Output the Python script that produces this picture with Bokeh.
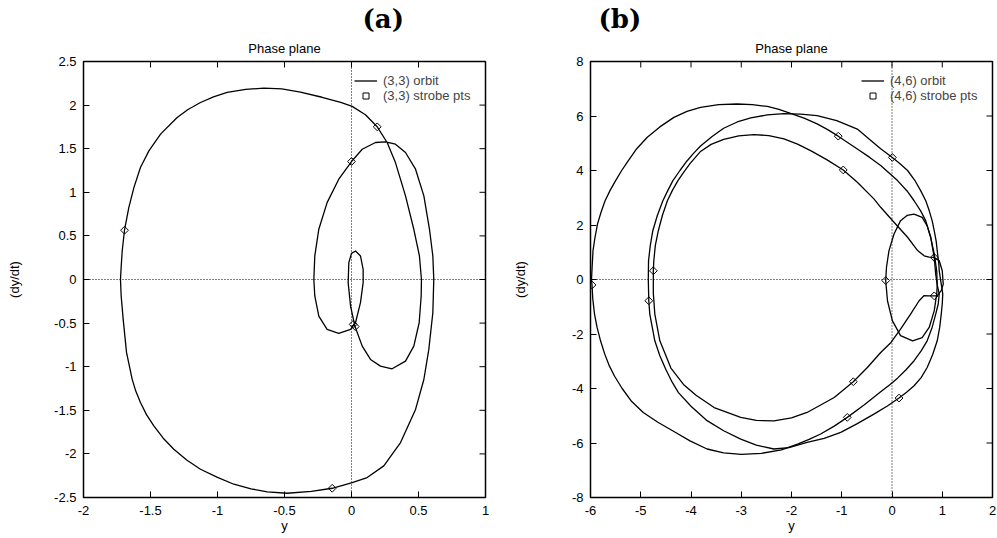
import math
from bokeh.plotting import figure
from bokeh.models import Range1d, FixedTicker, Span, Legend, LegendItem, Title
from bokeh.layouts import row
from bokeh.embed import file_html
from bokeh.resources import INLINE

# ---------------- DATA : panel (a) ----------------
a_orbit_y = [-1.724, -1.719, -1.711, -1.694, -1.662, -1.624, -1.575, -1.512, -1.425, -1.301,
             -1.22, -1.127, -1.03, -0.928, -0.79, -0.654, -0.52, -0.381, -0.22, -0.08,
             0.005, 0.104, 0.192, 0.266, 0.328, 0.403, 0.465, 0.507, 0.522, 0.520,
             0.505, 0.465, 0.403, 0.303, 0.216, 0.142, 0.080, 0.025, -0.007, -0.025,
             -0.020, 0.0, 0.030, 0.067, 0.087, 0.087, 0.067, 0.030, -0.007, -0.095,
             -0.182, -0.244, -0.274, -0.281, -0.274, -0.244, -0.182, -0.095, 0.0, 0.080,
             0.179, 0.254, 0.328, 0.403, 0.478, 0.540, 0.582, 0.607, 0.614, 0.607,
             0.577, 0.540, 0.478, 0.366, 0.241, 0.117, 0.005, -0.144, -0.30, -0.48,
             -0.629, -0.75, -0.878, -1.0, -1.127, -1.23, -1.326, -1.405, -1.475, -1.53,
             -1.575, -1.61, -1.637, -1.679, -1.704, -1.719, -1.724]
a_orbit_dydt = [0.0, 0.14, 0.33, 0.565, 0.825, 1.054, 1.284, 1.475, 1.667, 1.858,
                1.95, 2.03, 2.095, 2.145, 2.18, 2.195, 2.185, 2.149, 2.09, 2.03,
                1.985, 1.89, 1.751, 1.571, 1.341, 0.959, 0.576, 0.27, 0.0, -0.19,
                -0.496, -0.764, -0.936, -1.024, -0.993, -0.917, -0.764, -0.534, -0.304, -0.036,
                0.193, 0.30, 0.327, 0.270, 0.117, -0.036, -0.266, -0.496, -0.572, -0.618,
                -0.572, -0.419, -0.189, 0.0, 0.27, 0.576, 0.882, 1.15, 1.353, 1.494,
                1.571, 1.579, 1.552, 1.456, 1.265, 0.959, 0.576, 0.27, 0.0, -0.381,
                -0.802, -1.147, -1.49, -1.87, -2.137, -2.271, -2.329, -2.394, -2.43, -2.451,
                -2.436, -2.40, -2.348, -2.27, -2.176, -2.07, -1.946, -1.82, -1.678, -1.55,
                -1.41, -1.28, -1.142, -0.836, -0.454, -0.186, 0.0]
a_strobe_y = [-1.694, 0.192, 0.0, -0.144, 0.012, 0.028]
a_strobe_dydt = [0.565, 1.751, 1.353, -2.394, -0.515, -0.540]

a_xticks = [-2, -1.5, -1, -0.5, 0, 0.5, 1]
a_xtick_labels = ["-2", "-1.5", "-1", "-0.5", "0", "0.5", "1"]
a_yticks = [-2.5, -2, -1.5, -1, -0.5, 0, 0.5, 1, 1.5, 2, 2.5]
a_ytick_labels = ["-2.5", "-2", "-1.5", "-1", "-0.5", "0", "0.5", "1", "1.5", "2", "2.5"]

# ---------------- DATA : panel (b) ----------------
b_loop1_y = [-5.98, -5.965, -5.95, -5.91, -5.86, -5.79, -5.71, -5.61, -5.50, -5.38,
             -5.25, -5.08, -4.87, -4.62, -4.34, -4.08, -3.81, -3.45, -3.08, -2.78,
             -2.48, -2.25, -2.02, -1.75, -1.49, -1.28, -1.07, -0.69, -0.45, -0.225,
             0.11, 0.30, 0.44, 0.57, 0.67, 0.77, 0.84, 0.87, 0.90, 0.94,
             0.92, 0.87, 0.80, 0.70, 0.58, 0.44, 0.28, 0.11, -0.05, -0.225,
             -0.55, -0.89, -1.15, -1.42, -1.65, -1.88, -2.2, -2.6, -3.0, -3.35,
             -3.68, -4.02, -4.34, -4.66, -4.95, -5.18, -5.37, -5.52, -5.63, -5.72,
             -5.80, -5.87, -5.92, -5.955, -5.97, -5.98]
b_loop1_dydt = [0.0, 0.55, 1.06, 1.55, 2.04, 2.47, 2.89, 3.27, 3.63, 4.0,
                4.35, 4.8, 5.22, 5.6, 5.95, 6.17, 6.32, 6.42, 6.44, 6.42,
                6.35, 6.24, 6.10, 5.92, 5.71, 5.50, 5.26, 4.79, 4.49, 4.18,
                3.63, 3.25, 2.89, 2.52, 2.16, 1.55, 0.81, 0.2, -0.2, -0.53,
                -0.9, -1.27, -1.75, -2.25, -2.62, -2.98, -3.31, -3.62, -3.87, -4.12,
                -4.6, -5.06, -5.38, -5.67, -5.87, -6.04, -6.25, -6.38, -6.42, -6.36,
                -6.22, -5.92, -5.58, -5.24, -4.88, -4.48, -4.00, -3.55, -3.15, -2.72,
                -2.25, -1.75, -1.27, -0.7, -0.2, 0.0]

b_loop2_y = [-4.85, -4.845, -4.81, -4.76, -4.67, -4.56, -4.46, -4.36, -4.22, -4.08,
             -3.95, -3.81, -3.58, -3.35, -3.08, -2.81, -2.48, -2.15, -1.82, -1.49,
             -1.1, -0.69, -0.45, -0.225, 0.007, 0.16, 0.31, 0.45, 0.57, 0.67,
             0.74, 0.80, 0.84, 0.88, 0.90, 0.93, 0.94, 0.97, 1.0, 1.01,
             1.0, 0.98, 0.95, 0.90, 0.81, 0.70, 0.58, 0.44, 0.29, 0.14,
             -0.1, -0.36, -0.7, -1.02, -1.35, -1.69, -2.05, -2.35, -2.7, -3.01,
             -3.35, -3.68, -4.0, -4.25, -4.38, -4.50, -4.62, -4.72, -4.82, -4.84,
             -4.85]
b_loop2_dydt = [0.0, 0.69, 1.25, 1.79, 2.35, 2.89, 3.27, 3.63, 4.0, 4.35,
                4.63, 4.90, 5.25, 5.55, 5.78, 5.93, 6.04, 6.09, 6.07, 6.01,
                5.83, 5.52, 5.15, 4.80, 4.48, 4.25, 4.0, 3.65, 3.26, 2.9,
                2.53, 2.15, 1.79, 1.4, 1.06, 0.6, 0.32, -0.05, -0.4, -0.53,
                -0.9, -1.27, -1.75, -2.25, -2.75, -3.23, -3.6, -3.90, -4.14, -4.35,
                -4.65, -4.94, -5.3, -5.61, -5.83, -5.98, -6.17, -6.22, -6.08, -5.86,
                -5.55, -5.18, -4.65, -4.15, -3.75, -3.3, -2.8, -2.25, -1.27, -0.78,
                0.0]

b_loop3_y = [-4.75, -4.75, -4.74, -4.71, -4.65, -4.57, -4.47, -4.37, -4.26, -4.14,
             -4.02, -3.81, -3.6, -3.35, -3.05, -2.75, -2.45, -2.15, -1.88, -1.62,
             -1.3, -0.97, -0.69, -0.36, -0.225, 0.04, 0.31, 0.51, 0.64, 0.74,
             0.84, 0.94, 1.0, 1.02, 0.98, 0.90, 0.84, 0.74, 0.64, 0.54,
             0.37, 0.17, -0.02, -0.225, -0.49, -0.77, -1.15, -1.69, -2.0, -2.35,
             -2.7, -3.01, -3.54, -3.9, -4.15, -4.40, -4.62, -4.72, -4.75, -4.75]
b_loop3_dydt = [0.0, 0.32, 0.69, 1.25, 1.79, 2.35, 2.89, 3.27, 3.63, 3.95,
                4.25, 4.70, 4.96, 5.14, 5.27, 5.32, 5.28, 5.16, 4.97, 4.73,
                4.40, 4.02, 3.57, 2.96, 2.65, 2.10, 1.55, 1.06, 0.87, 0.82,
                0.81, 0.69, 0.32, -0.17, -0.41, -0.59, -0.60, -0.60, -0.59, -0.78,
                -1.27, -1.82, -2.31, -2.68, -3.23, -3.75, -4.33, -4.88, -5.08, -5.19,
                -5.17, -5.06, -4.70, -4.25, -3.85, -3.25, -2.25, -1.27, -0.5, 0.0]

b_loop4_y = [0.44, 0.60, 0.70, 0.77, 0.84, 0.89, 0.90, 0.89, 0.84, 0.74,
             0.60, 0.41, 0.17, 0.007, -0.09, -0.125, -0.11, -0.06, 0.04, 0.17,
             0.30, 0.44]
b_loop4_dydt = [2.40, 2.28, 1.97, 1.55, 0.94, 0.32, -0.2, -0.53, -1.15, -1.76,
                -2.13, -2.25, -2.06, -1.51, -0.78, -0.04, 0.45, 1.06, 1.67, 2.16,
                2.35, 2.40]

b_strobe_y = [-1.07, 0.007, -0.97, 0.84, -0.125, 0.84, -5.97, -4.84, -4.75, -0.77, -0.89, 0.14]
b_strobe_dydt = [5.26, 4.48, 4.02, 0.81, -0.04, -0.60, -0.2, -0.78, 0.32, -3.75, -5.06, -4.35]

b_xticks = [-6, -5, -4, -3, -2, -1, 0, 1, 2]
b_xtick_labels = ["-6", "-5", "-4", "-3", "-2", "-1", "0", "1", "2"]
b_yticks = [-8, -6, -4, -2, 0, 2, 4, 6, 8]
b_ytick_labels = ["-8", "-6", "-4", "-2", "0", "2", "4", "6", "8"]

# ---------------- styling ----------------
SANS = "Liberation Sans"
FS = "13px"
H = 536


def make_panel(width, border_left, border_right, xr, yr, xticks, xlabels, yticks, ylabels,
               ylab_standoff, tag, tag_offset):
    p = figure(width=width, height=H, x_range=Range1d(*xr), y_range=Range1d(*yr),
               output_backend="svg", toolbar_location=None,
               min_border_left=border_left, min_border_right=border_right,
               min_border_top=61, min_border_bottom=39)
    p.title.text = ""
    p.title.standoff = 0
    p.add_layout(Title(text="Phase plane", align="center", text_font=SANS,
                       text_font_size=FS, text_font_style="normal", standoff=11,
                       text_color="black"), "above")
    p.add_layout(Title(text=tag, align="left", offset=tag_offset, text_font="DejaVu Serif",
                       text_font_size="26px", text_font_style="bold", standoff=0,
                       text_color="black"), "above")
    p.grid.visible = False
    p.background_fill_color = "white"
    p.border_fill_color = "white"
    p.outline_line_color = "black"
    p.outline_line_width = 1.5

    xa = p.below[0]
    ya = p.left[0]
    for ax, ticks, labels in ((xa, xticks, xlabels), (ya, yticks, ylabels)):
        ax.ticker = FixedTicker(ticks=ticks)
        ax.major_label_overrides = dict(zip(ticks, labels))
        ax.major_tick_in = 6
        ax.major_tick_out = 0
        ax.minor_tick_line_color = None
        ax.axis_line_color = None
        ax.major_tick_line_color = "black"
        ax.major_label_text_font = SANS
        ax.major_label_text_font_size = FS
        ax.major_label_text_color = "black"
        ax.axis_label_text_font = SANS
        ax.axis_label_text_font_size = FS
        ax.axis_label_text_font_style = "normal"
        ax.axis_label_text_color = "black"
    xa.axis_label = "y"
    xa.major_label_standoff = 8
    xa.axis_label_standoff = 0
    ya.axis_label = "(dy/dt)"
    ya.major_label_standoff = 7
    ya.axis_label_standoff = ylab_standoff

    # mirrored inward ticks on the top and right edges (clipped half of a dash)
    p.scatter(xticks, [yr[1]] * len(xticks), marker="dash", angle=math.pi / 2, size=12,
              line_color="black", line_width=1)
    p.scatter([xr[1]] * len(yticks), yticks, marker="dash", size=12,
              line_color="black", line_width=1)

    p.add_layout(Span(location=0, dimension="height", line_color="black",
                      line_width=1, line_dash="1 2"))
    p.add_layout(Span(location=0, dimension="width", line_color="black",
                      line_width=1, line_dash="1 2"))
    return p


pa = make_panel(497, 83, 12, (-2, 1), (-2.5, 2.5), a_xticks, a_xtick_labels,
                a_yticks, a_ytick_labels, 29, "(a)", 279)
ra = pa.line(a_orbit_y, a_orbit_dydt, line_color="black", line_width=1.3, line_join="round")
sa = pa.scatter(a_strobe_y, a_strobe_dydt, marker="square", angle=math.pi / 4, size=5.5,
                fill_color=None, line_color="black", line_width=1)

pb = make_panel(500, 93, 5, (-6, 2), (-8, 8), b_xticks, b_xtick_labels,
                b_yticks, b_ytick_labels, 41, "(b)", 8)
rb = pb.multi_line([b_loop1_y, b_loop2_y, b_loop3_y, b_loop4_y],
                   [b_loop1_dydt, b_loop2_dydt, b_loop3_dydt, b_loop4_dydt],
                   line_color="black", line_width=1.3, line_join="round")
sb = pb.scatter(b_strobe_y, b_strobe_dydt, marker="square", angle=math.pi / 4, size=5.5,
                fill_color=None, line_color="black", line_width=1)

for p, rl, rs, tag in ((pa, ra, sa, "(3,3)"), (pb, rb, sb, "(4,6)")):
    lg = Legend(items=[LegendItem(label=tag + " orbit", renderers=[rl]),
                       LegendItem(label=tag + " strobe pts", renderers=[rs])],
                location=(271, 394), background_fill_alpha=0, border_line_color=None,
                label_text_font=SANS, label_text_font_size=FS, glyph_width=23,
                glyph_height=15, label_height=15, spacing=0, padding=0, margin=0,
                label_standoff=6)
    p.add_layout(lg)

layout = row(pa, pb, spacing=0)
open("out.html", "w").write(file_html(layout, INLINE))
